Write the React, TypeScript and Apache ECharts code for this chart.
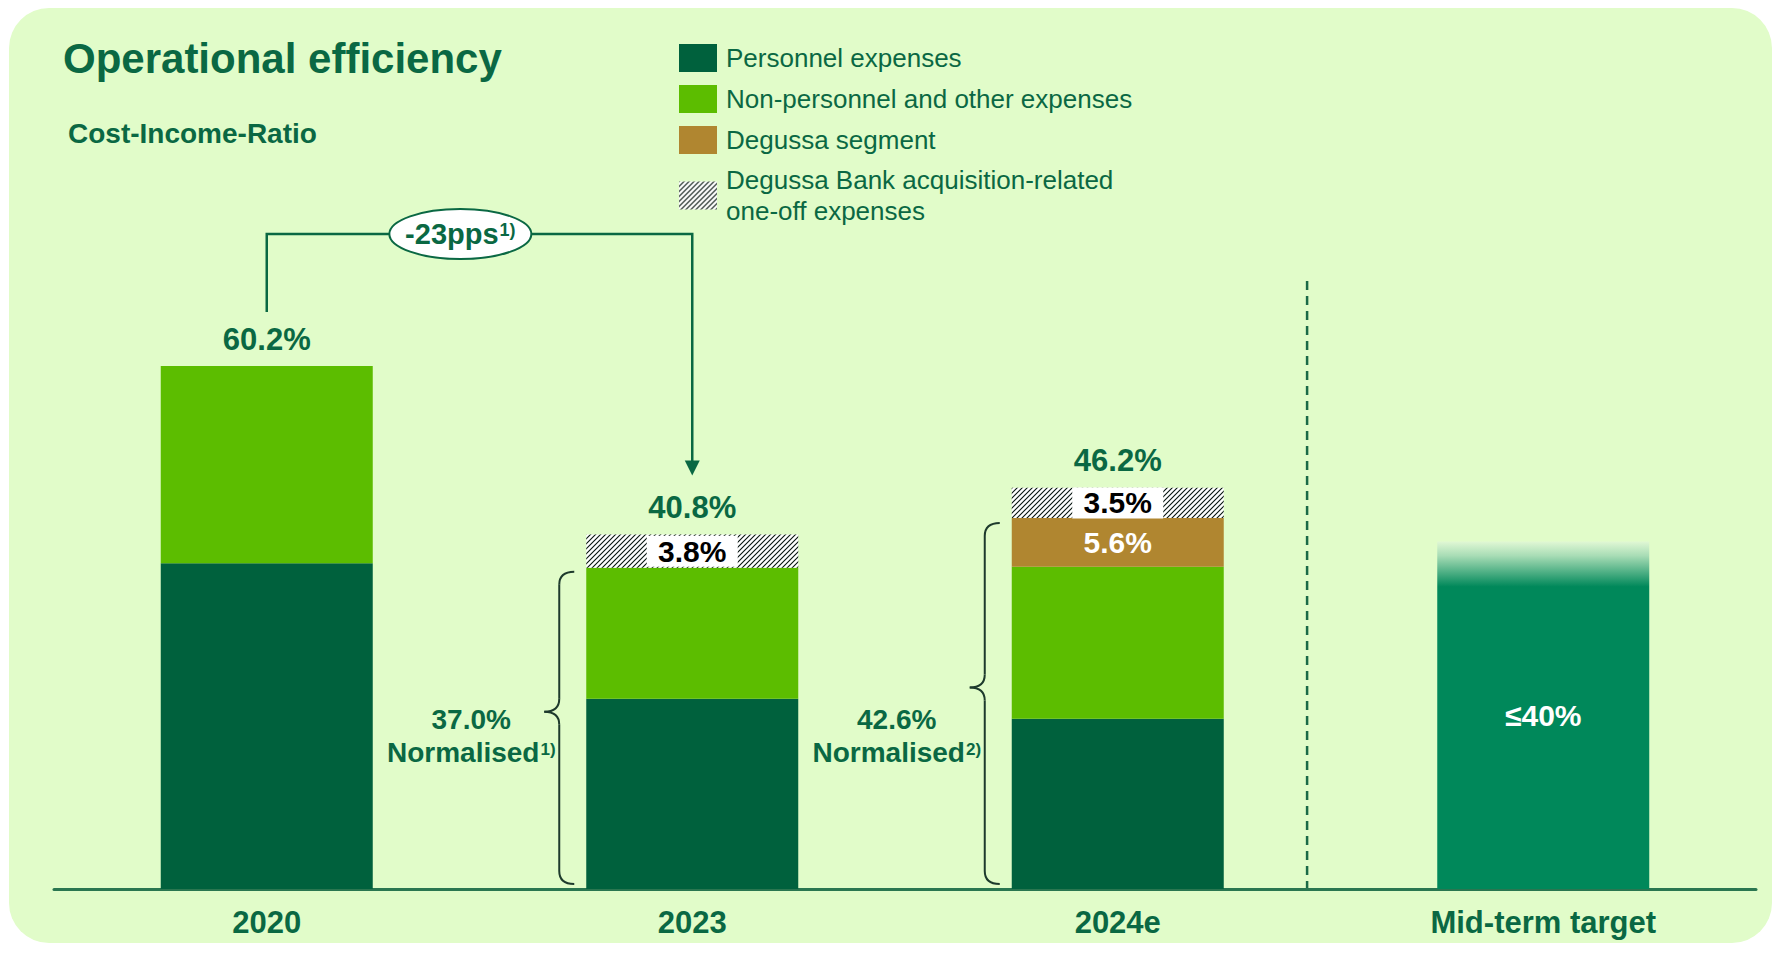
import React, { useEffect, useRef } from 'react';
import * as echarts from 'echarts';

const titleText = 'Operational efficiency';
const subtitleText = 'Cost-Income-Ratio';
const categories = ['2020', '2023', '2024e', 'Mid-term target'];
const seriesNames = [
  'Personnel expenses',
  'Non-personnel and other expenses',
  'Degussa segment',
  'Degussa Bank acquisition-related\none-off expenses',
];
const personnel = [37.5, 21.9, 19.6, null];
const nonPersonnel = [22.7, 15.1, 17.5, null];
const degussaSegment = [null, null, 5.6, null];
const oneOffExpenses = [null, 3.8, 3.5, null];
const midTermTarget = [null, null, null, 40];
const totals = [60.2, 40.8, 46.2, null];
const normalised = [null, 37.0, 42.6, null];
const normalisedNotes = ['', '1)', '2)', ''];
const changePps = -23;
const changeNote = '1)';

const FONT = '"Liberation Sans", Arial, Helvetica, sans-serif';
const C_TEXT = '#0A6843';
const C_PERS = '#00613D';
const C_NONP = '#5CBD00';
const C_GOLD = '#B08630';
const C_MID = '#00885A';
const C_BRACE = '#1D3A2C';
const BAR_W = 212;

function makeHatch() {
  const s = 5;
  const c = document.createElement('canvas');
  c.width = s;
  c.height = s;
  const g = c.getContext('2d')!;
  g.fillStyle = '#ffffff';
  g.fillRect(0, 0, s, s);
  g.strokeStyle = '#06140e';
  g.lineWidth = 1.1;
  g.beginPath();
  g.moveTo(-1, s + 1);
  g.lineTo(s + 1, -1);
  g.moveTo(-1, 1);
  g.lineTo(1, -1);
  g.moveTo(s - 1, s + 1);
  g.lineTo(s + 1, s - 1);
  g.stroke();
  return { image: c, repeat: 'repeat', imageWidth: s, imageHeight: s } as any;
}

function braceElements(barLeft: number, top: number, bottom: number, mid: number) {
  const E = barLeft - 12;
  const S = barLeft - 27;
  const C = barLeft - 42;
  const r = 13;
  const st = { stroke: C_BRACE, lineWidth: 2, fill: 'none' };
  return [
    { type: 'bezierCurve', shape: { x1: E, y1: top, cpx1: S, cpy1: top, x2: S, y2: top + r }, style: st },
    { type: 'line', shape: { x1: S, y1: top + r, x2: S, y2: mid - r }, style: st },
    { type: 'bezierCurve', shape: { x1: S, y1: mid - r, cpx1: S, cpy1: mid, x2: C, y2: mid }, style: st },
    { type: 'bezierCurve', shape: { x1: C, y1: mid, cpx1: S, cpy1: mid, x2: S, y2: mid + r }, style: st },
    { type: 'line', shape: { x1: S, y1: mid + r, x2: S, y2: bottom - r }, style: st },
    { type: 'bezierCurve', shape: { x1: S, y1: bottom - r, cpx1: S, cpy1: bottom, x2: E, y2: bottom }, style: st },
  ];
}

export default function App() {
  const ref = useRef<HTMLDivElement>(null);

  useEffect(() => {
    if (!ref.current) return;
    const chart = echarts.init(ref.current, null, { renderer: 'svg' });
    const hatch = makeHatch();
    const pct = (p: any) => (p.value == null ? '' : `${Number(p.value).toFixed(1)}%`);
    const barBase = { type: 'bar', stack: 'cir', barWidth: BAR_W, silent: true };

    const option: any = {
      animation: false,
      textStyle: { fontFamily: FONT },
      title: [
        {
          text: titleText, left: 63, top: 37, padding: 0,
          textStyle: { fontSize: 42, fontWeight: 'bold', color: C_TEXT, fontFamily: FONT, lineHeight: 42 },
        },
        {
          text: subtitleText, left: 68, top: 119, padding: 0,
          textStyle: { fontSize: 28, fontWeight: 'bold', color: C_TEXT, fontFamily: FONT, lineHeight: 28 },
        },
      ],
      legend: {
        orient: 'vertical', left: 679, top: 44, itemWidth: 38, itemHeight: 28, itemGap: 13,
        selectedMode: false, icon: 'rect', padding: 0,
        textStyle: { fontSize: 26, color: C_TEXT, fontFamily: FONT, lineHeight: 28, padding: [0, 0, 0, 4] },
        data: [
          seriesNames[0], seriesNames[1], seriesNames[2],
          { name: seriesNames[3], textStyle: { lineHeight: 31, padding: [0, 0, -31, 4] } },
        ],
      },
      grid: { left: 54, right: 21, top: 281, bottom: 65 },
      xAxis: {
        type: 'category', data: categories,
        axisLine: { lineStyle: { color: '#2A7650', width: 3 } },
        axisTick: { show: false },
        axisLabel: { interval: 0, fontSize: 31, fontWeight: 'bold', color: C_TEXT, margin: 18, fontFamily: FONT },
      },
      yAxis: { type: 'value', min: 0, max: 70, show: false },
      series: [
        { ...barBase, name: seriesNames[0], data: personnel, itemStyle: { color: C_PERS } },
        { ...barBase, name: seriesNames[1], data: nonPersonnel, itemStyle: { color: C_NONP } },
        {
          ...barBase, name: seriesNames[2], data: degussaSegment, itemStyle: { color: C_GOLD },
          label: { show: true, position: 'inside', formatter: pct, color: '#ffffff', fontSize: 30, fontWeight: 'bold' },
        },
        {
          ...barBase, name: seriesNames[3], data: oneOffExpenses, itemStyle: { color: hatch },
          label: {
            show: true, position: 'inside', formatter: pct, color: '#000000', fontSize: 30, fontWeight: 'bold',
            backgroundColor: '#ffffff', width: 91, align: 'center', lineHeight: 31,
          },
        },
        {
          ...barBase, name: 'Mid-term target', data: midTermTarget,
          itemStyle: {
            color: new echarts.graphic.LinearGradient(0, 0, 0, 1, [
              { offset: 0, color: '#E0F7D4' },
              { offset: 0.04, color: '#A9DDB6' },
              { offset: 0.13, color: C_MID },
              { offset: 1, color: C_MID },
            ]),
          },
          label: {
            show: true, position: 'inside', formatter: (p: any) => `≤${p.value}%`,
            color: '#ffffff', fontSize: 30, fontWeight: 'bold',
          },
        },
        {
          type: 'scatter', name: 'Total', data: totals, symbolSize: 1, silent: true, z: 5,
          itemStyle: { color: 'transparent', opacity: 1 },
          label: {
            show: true, position: 'top', distance: 11, formatter: pct, fontSize: 31, fontWeight: 'bold',
            color: C_TEXT, opacity: 1,
          },
        },
      ],
    };
    chart.setOption(option);

    const toPx = (i: number, v: number) => chart.convertToPixel({ gridIndex: 0 }, [i, v]) as number[];
    const xc = categories.map((_, i) => toPx(i, 0)[0]);
    const y0 = toPx(0, 0)[1];
    const yTopGrid = toPx(0, 70)[1];
    const band = xc[1] - xc[0];
    const half = BAR_W / 2;

    const elements: any[] = [];
    // change arrow
    const x0 = xc[0];
    const x1 = xc[1];
    const yStart = toPx(0, totals[0] as number)[1] - 54;
    const yLevel = yTopGrid - 47;
    const tipY = toPx(1, totals[1] as number)[1] - 59;
    elements.push({
      type: 'polyline',
      shape: { points: [[x0, yStart], [x0, yLevel], [x1, yLevel], [x1, tipY - 13]] },
      style: { stroke: C_TEXT, lineWidth: 2.5, fill: 'none' },
    });
    elements.push({
      type: 'polygon',
      shape: { points: [[x1 - 7.5, tipY - 15], [x1 + 7.5, tipY - 15], [x1, tipY]] },
      style: { fill: C_TEXT },
    });
    const ecx = x0 + 0.455 * (x1 - x0);
    elements.push({
      type: 'ellipse',
      shape: { cx: ecx, cy: yLevel, rx: 71, ry: 25 },
      style: { fill: '#ffffff', stroke: C_TEXT, lineWidth: 2 },
    });
    elements.push({
      type: 'text',
      x: ecx,
      y: yLevel,
      style: {
        text: `{m|${changePps}pps}{s|${changeNote}}`,
        align: 'center', verticalAlign: 'middle', fill: C_TEXT,
        rich: {
          m: { fontSize: 29, fontWeight: 'bold', fontFamily: FONT, fill: C_TEXT, lineHeight: 31, verticalAlign: 'middle' },
          s: { fontSize: 18, fontWeight: 'bold', fontFamily: FONT, fill: C_TEXT, padding: [0, 0, 9, 1], verticalAlign: 'middle' },
        },
      },
    });

    // braces + normalised labels
    categories.forEach((_, i) => {
      const nv = normalised[i];
      if (nv == null) return;
      const barLeft = xc[i] - half;
      const top = toPx(i, nv)[1] + 4;
      const bottom = y0 - 5;
      const mid = (top + bottom) / 2 - 16;
      elements.push(...braceElements(barLeft, top, bottom, mid));
      elements.push({
        type: 'text',
        x: barLeft - 115,
        y: y0 - 153,
        style: {
          text: `{a|${nv.toFixed(1)}%}\n{b|Normalised}{s|${normalisedNotes[i]}}`,
          align: 'center', verticalAlign: 'middle', fill: C_TEXT,
          rich: {
            a: { fontSize: 28, fontWeight: 'bold', fontFamily: FONT, fill: C_TEXT, lineHeight: 33, verticalAlign: 'middle' },
            b: { fontSize: 28, fontWeight: 'bold', fontFamily: FONT, fill: C_TEXT, lineHeight: 33, verticalAlign: 'middle' },
            s: { fontSize: 17, fontWeight: 'bold', fontFamily: FONT, fill: C_TEXT, padding: [0, 0, 7, 1], verticalAlign: 'middle' },
          },
        },
      });
    });

    // divider before mid-term target
    const xd = xc[2] + 0.445 * band;
    elements.push({
      type: 'line',
      shape: { x1: xd, y1: yTopGrid, x2: xd, y2: y0 },
      style: { stroke: '#1B6A47', lineWidth: 2.5, lineDash: [9, 6] },
    });

    chart.setOption({ graphic: { elements } });

    return () => chart.dispose();
  }, []);

  return (
    <div style={{ position: 'fixed', left: 0, top: 0, width: 1777, height: 954, background: '#ffffff' }}>
      <div
        style={{
          position: 'absolute', left: 9, top: 8, width: 1763, height: 935,
          borderRadius: 40, background: '#E1FCC9',
        }}
      />
      <div ref={ref} style={{ position: 'absolute', left: 0, top: 0, width: 1777, height: 954 }} />
    </div>
  );
}
